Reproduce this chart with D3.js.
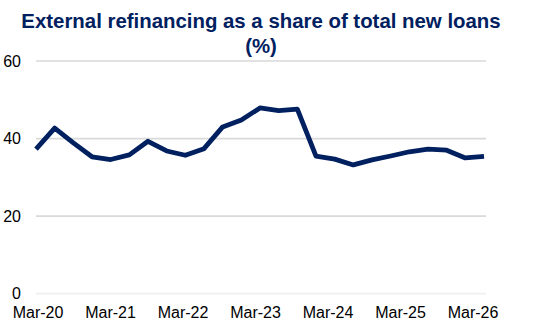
<!DOCTYPE html>
<html>
<head>
<meta charset="utf-8">
<script src="https://cdn.jsdelivr.net/npm/d3@7"></script>
<style>
  body { margin: 0; background: #fff; }
  svg { display: block; font-family: "Liberation Sans", Arial, sans-serif; }
</style>
</head>
<body>
<svg width="533" height="333"></svg>
<script>
// quarterly observations, Mar-20 .. Mar-26
var quarters = ["Mar-20","Jun-20","Sep-20","Dec-20","Mar-21","Jun-21","Sep-21","Dec-21",
  "Mar-22","Jun-22","Sep-22","Dec-22","Mar-23","Jun-23","Sep-23","Dec-23",
  "Mar-24","Jun-24","Sep-24","Dec-24","Mar-25","Jun-25","Sep-25","Dec-25","Mar-26"];
var shares = [37.3, 42.7, 38.9, 35.3, 34.6, 35.8, 39.3, 36.8, 35.7, 37.4, 43.0, 44.8, 47.9,
  47.2, 47.6, 35.5, 34.7, 33.2, 34.5, 35.5, 36.6, 37.3, 37.0, 35.0, 35.4];
var tickLabels = ["Mar-20","Mar-21","Mar-22","Mar-23","Mar-24","Mar-25","Mar-26"];
var yTicks = [0, 20, 40, 60];

var svg = d3.select("svg");
var navy = "#002060";

var x = d3.scalePoint().domain(quarters).range([36, 484]);
var xLab = d3.scalePoint().domain(tickLabels).range([38, 473]);
var y = d3.scaleLinear().domain([0, 60]).range([293.7, 61]);

// title
var title = svg.append("text")
  .attr("text-anchor", "middle")
  .attr("fill", navy)
  .style("font-size", "20.4px")
  .style("font-weight", "bold");
title.append("tspan").attr("x", 261).attr("y", 27.5).text("External refinancing as a share of total new loans");
title.append("tspan").attr("x", 261).attr("y", 52.5).text("(%)");

// gridlines
svg.append("g").selectAll("line")
  .data(yTicks)
  .enter().append("line")
  .attr("x1", 36).attr("x2", 486)
  .attr("y1", function(d) { return y(d); })
  .attr("y2", function(d) { return y(d); })
  .attr("stroke", function(d) { return d == 0 ? "#efefef" : "#d9d9d9"; })
  .attr("stroke-width", 1.7);

// y labels
svg.append("g").selectAll("text")
  .data(yTicks)
  .enter().append("text")
  .attr("x", 21)
  .attr("y", function(d) { return y(d); })
  .attr("dy", "0.35em")
  .attr("text-anchor", "end")
  .attr("fill", "#000")
  .style("font-size", "16px")
  .text(function(d) { return d; });

// x labels
svg.append("g").selectAll("text")
  .data(tickLabels)
  .enter().append("text")
  .attr("x", function(d) { return xLab(d); })
  .attr("y", 318)
  .attr("text-anchor", "middle")
  .attr("fill", "#000")
  .style("font-size", "16px")
  .text(function(d) { return d; });

// the series
var line = d3.line()
  .x(function(d, i) { return x(quarters[i]); })
  .y(function(d) { return y(d); });

svg.append("path")
  .datum(shares)
  .attr("d", line)
  .attr("fill", "none")
  .attr("stroke", navy)
  .attr("stroke-width", 4.8)
  .attr("stroke-linejoin", "round");
</script>
</body>
</html>
